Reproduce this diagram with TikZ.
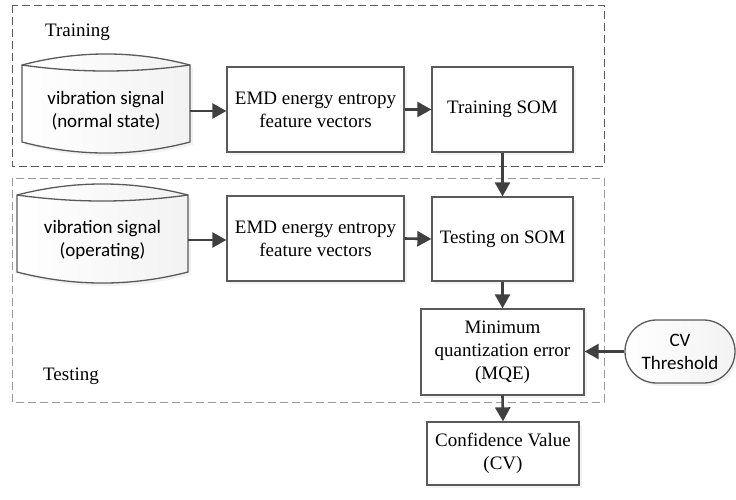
\documentclass[tikz,border=0pt]{standalone}
\usepackage{fontspec}
\setmainfont{Liberation Serif}
\newfontfamily\calib{Carlito}
\usetikzlibrary{arrows.meta,shadows,shapes.misc}
\definecolor{linegray}{HTML}{404040}
\definecolor{boxgray}{HTML}{5A5A5A}
\definecolor{lightdash}{HTML}{9A9A9A}
\tikzset{
  txt/.style={font=\fontsize{19}{23}\selectfont},
  procbox/.style={txt, draw=boxgray, line width=1.3pt, fill=white, align=center, inner sep=0pt,
    drop shadow={shadow xshift=3pt, shadow yshift=-3pt, opacity=0.10, fill=gray}},
  cylshape/.style={draw=boxgray, line width=1.3pt, left color=white, right color=gray!10,
    drop shadow={shadow xshift=3pt, shadow yshift=-3pt, opacity=0.10, fill=gray}},
  cyltext/.style={font=\calib\fontsize{19}{23}\selectfont, align=center, inner sep=0pt},
  flow/.style={draw=linegray, line width=2.6pt, -{Triangle[length=14pt,width=15pt]}},
  grp/.style={line width=1pt, dash pattern=on 8pt off 4pt},
}
\begin{document}
\begin{tikzpicture}[x=1pt,y=-1pt]
\useasboundingbox (0,0) rectangle (736,499);
% group frames
\draw[grp, draw=boxgray] (12,5) rectangle (604,166);
\draw[grp, draw=lightdash] (12,178) rectangle (604,402);
\node[txt, anchor=west, inner sep=0pt] (lbltrain) at (45,32) {Training};
\node[txt, anchor=west, inner sep=0pt] (lbltest) at (43,376) {Testing};

% cylinder 1
\path[cylshape] (22,65) .. controls (78,50.3) and (134,50.3) .. (190,65)
  -- (190,142) .. controls (134,156.7) and (78,156.7) .. (22,142) -- cycle;
\draw[boxgray, line width=1.3pt] (22,65) .. controls (78,73) and (134,73) .. (190,65);
\node[cyltext, minimum width=168pt, minimum height=60pt] (cyl1) at (106,111) {vibration signal\\(normal state)};

% cylinder 2
\path[cylshape] (17,195) .. controls (74,180.3) and (131,180.3) .. (188,195)
  -- (188,272) .. controls (131,286.7) and (74,286.7) .. (17,272) -- cycle;
\draw[boxgray, line width=1.3pt] (17,195) .. controls (74,203) and (131,203) .. (188,195);
\node[cyltext, minimum width=171pt, minimum height=60pt] (cyl2) at (102.5,240) {vibration signal\\(operating)};

% boxes
\node[procbox, minimum width=177pt, minimum height=85pt] (emd1) at (315.5,109.5) {EMD energy entropy\\feature vectors};
\node[procbox, minimum width=141pt, minimum height=85pt] (som1) at (502.5,109.5) {Training SOM};
\node[procbox, minimum width=177pt, minimum height=85pt] (emd2) at (315.5,238.5) {EMD energy entropy\\feature vectors};
\node[procbox, minimum width=141pt, minimum height=84pt] (som2) at (502.5,239) {Testing on SOM};
\node[procbox, minimum width=163pt, minimum height=86pt] (mqe) at (502.5,352) {Minimum\\quantization error\\(MQE)};
\node[procbox, minimum width=152pt, minimum height=63pt] (cv) at (503,453.5) {Confidence Value\\(CV)};
\node[rounded rectangle, draw=boxgray, line width=1.3pt, left color=white, right color=gray!10,
  minimum width=110pt, minimum height=63pt, inner sep=0pt, cyltext,
  drop shadow={shadow xshift=3pt, shadow yshift=-3pt, opacity=0.10, fill=gray}] (thr) at (680,351.5) {CV\\Threshold};

% connectors
\draw[flow] (cyl1.east) -- (cyl1.east -| emd1.west);
\draw[flow] (emd1.east) -- (som1.west);
\draw[flow] (som1.south) -- (som2.north);
\draw[flow] (cyl2.east) -- (cyl2.east -| emd2.west);
\draw[flow] (emd2.east) -- (som2.west);
\draw[flow] (som2.south) -- (mqe.north);
\draw[flow] (mqe.south) -- (cv.north);
\draw[flow] (thr.west) -- (thr.west -| mqe.east);
\end{tikzpicture}
\end{document}
